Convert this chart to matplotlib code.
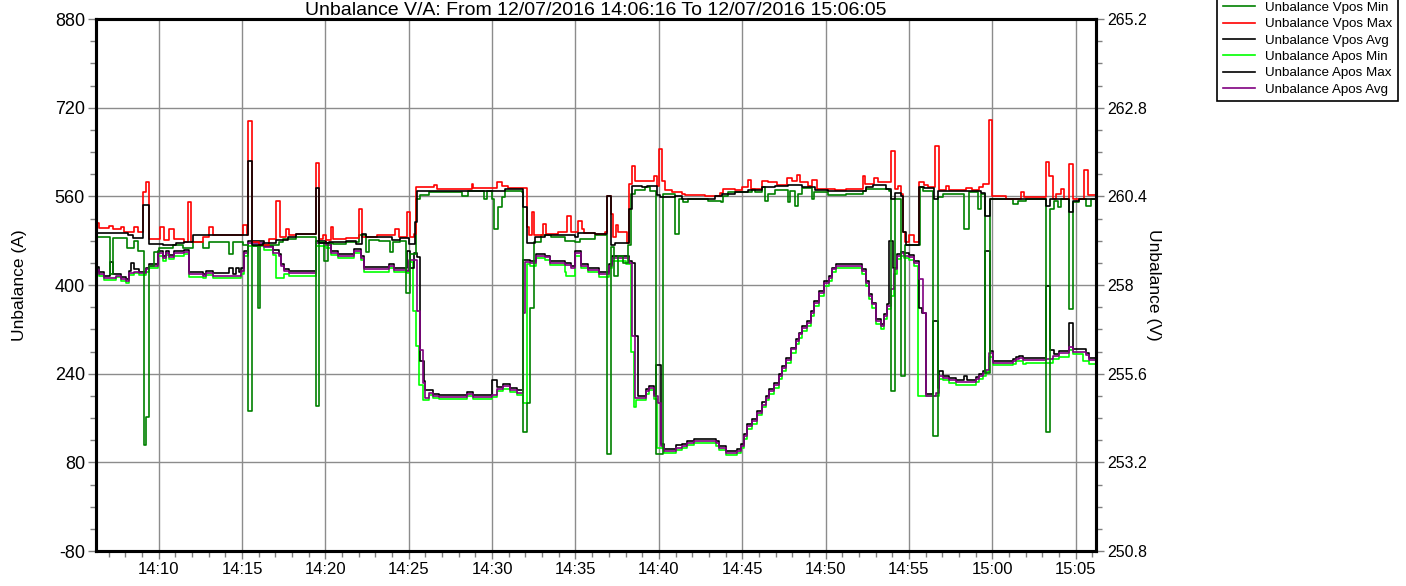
import matplotlib
matplotlib.use("Agg")
import matplotlib.pyplot as plt
import matplotlib.dates as mdates
from matplotlib.ticker import MultipleLocator, FuncFormatter
from datetime import datetime, timedelta

plt.rcParams['font.family'] = ['Liberation Sans', 'DejaVu Sans']
plt.rcParams['axes.unicode_minus'] = False

title = "Unbalance V/A: From 12/07/2016 14:06:16 To 12/07/2016 15:06:05"

# (minutes after 14:00, value) -- step data
vpos_min = [
    (6.24, 259.31), (7.08, 258.29), (7.28, 259.26), (8.08, 259.01), (8.54, 259.20), (8.74, 258.92),
    (9.10, 253.67), (9.24, 254.44), (9.40, 258.51), (9.74, 258.88), (10.04, 258.99), (10.84, 259.08),
    (11.44, 259.01), (12.04, 259.16), (12.64, 258.99), (13.04, 259.16), (14.20, 258.83), (14.44, 259.16),
    (15.04, 259.07), (15.38, 254.60), (15.58, 259.05), (15.94, 257.37), (16.10, 259.07), (17.24, 259.16),
    (17.44, 259.25), (18.24, 259.29), (19.44, 254.73), (19.60, 259.16), (19.94, 258.65), (20.14, 259.13),
    (20.44, 259.11), (21.21, 259.17), (22.01, 259.34), (22.41, 258.88), (22.60, 259.22), (23.20, 259.20),
    (23.90, 258.88), (24.04, 259.16), (24.50, 259.20), (24.86, 257.79), (25.09, 258.83), (25.43, 260.33),
    (25.69, 260.43), (26.19, 260.53), (28.18, 260.40), (28.58, 260.55), (29.54, 260.33), (29.68, 260.55),
    (29.97, 260.33), (30.13, 259.52), (30.37, 260.10), (30.57, 260.37), (30.77, 260.55), (31.77, 260.51),
    (31.85, 254.03), (32.09, 254.81), (32.27, 257.39), (32.50, 259.16), (32.96, 259.34), (33.56, 259.29),
    (34.36, 259.20), (34.96, 259.16), (35.25, 259.25), (36.16, 259.34), (36.86, 253.43), (37.10, 259.04),
    (37.32, 258.24), (37.56, 258.79), (37.86, 258.60), (38.16, 259.07), (38.32, 260.46), (38.56, 260.58),
    (39.16, 260.64), (39.46, 260.55), (39.80, 253.43), (40.22, 260.46), (40.96, 259.38), (41.20, 260.33),
    (41.46, 260.24), (41.76, 260.33), (42.96, 260.28), (43.72, 260.24), (43.86, 260.40), (44.16, 260.51),
    (45.56, 260.60), (45.76, 260.51), (46.16, 260.64), (46.36, 260.28), (46.52, 260.46), (46.96, 260.58),
    (47.72, 260.24), (47.86, 260.55), (48.16, 260.13), (48.32, 260.46), (48.56, 260.62), (49.16, 260.33),
    (49.32, 260.53), (50.16, 260.43), (51.22, 260.46), (52.22, 260.55), (52.42, 260.60), (53.82, 260.55),
    (53.92, 255.12), (54.16, 260.33), (54.52, 255.53), (54.76, 259.07), (55.42, 259.08), (55.66, 260.64),
    (55.82, 260.55), (56.46, 253.92), (56.72, 260.37), (57.02, 260.46), (58.32, 259.52), (58.62, 260.51),
    (59.12, 260.06), (59.32, 260.46), (59.58, 255.62), (59.86, 260.33), (61.22, 260.19), (61.52, 260.28),
    (62.02, 260.34), (63.22, 254.03), (63.46, 260.06), (63.72, 260.28), (63.92, 260.10), (64.12, 260.33),
    (64.58, 257.36), (64.82, 260.24), (65.22, 260.33), (65.62, 260.15), (65.92, 260.33), (66.22, 260.33),
]

vpos_max = [
    (6.24, 259.68), (6.44, 259.53), (7.04, 259.59), (7.28, 259.52), (7.74, 259.56), (7.94, 259.44),
    (8.54, 259.56), (8.74, 259.43), (9.04, 260.52), (9.24, 260.78), (9.40, 259.25), (10.08, 259.56),
    (10.34, 259.22), (10.64, 259.52), (10.94, 259.25), (11.54, 259.16), (11.74, 260.24), (11.94, 259.17),
    (12.64, 259.31), (13.04, 259.56), (13.24, 259.34), (15.04, 259.62), (15.28, 259.34), (15.38, 262.43),
    (15.58, 259.16), (16.04, 259.08), (16.64, 259.25), (17.04, 260.28), (17.28, 259.29), (17.64, 259.52),
    (17.84, 259.34), (18.24, 259.38), (19.44, 261.30), (19.60, 259.25), (19.84, 259.35), (20.04, 259.22),
    (20.34, 259.56), (20.48, 259.25), (21.21, 259.26), (22.01, 260.06), (22.21, 259.31), (23.10, 259.34),
    (24.16, 259.52), (24.40, 259.31), (24.90, 259.97), (25.09, 259.29), (25.29, 259.38), (25.43, 260.64),
    (26.49, 260.70), (26.69, 260.60), (28.78, 260.73), (28.88, 260.62), (30.27, 260.78), (30.57, 260.69),
    (30.97, 260.62), (32.07, 259.56), (32.21, 259.34), (32.41, 259.97), (32.52, 259.35), (33.06, 259.65),
    (33.22, 259.38), (33.96, 259.44), (34.52, 259.88), (34.76, 259.43), (35.15, 259.74), (35.39, 259.52),
    (35.51, 259.40), (36.16, 259.38), (36.76, 259.43), (36.86, 260.40), (37.10, 259.92), (37.26, 259.29),
    (37.40, 259.62), (37.56, 259.43), (38.06, 259.13), (38.22, 260.73), (38.36, 261.21), (38.56, 260.82),
    (39.72, 260.94), (39.86, 260.69), (40.00, 261.67), (40.20, 260.82), (40.36, 260.58), (40.80, 260.51),
    (41.36, 260.46), (41.56, 260.43), (42.76, 260.42), (43.66, 260.49), (43.86, 260.60), (44.56, 260.58),
    (44.96, 260.64), (45.36, 260.85), (45.52, 260.60), (46.16, 260.82), (46.56, 260.78), (47.06, 260.70),
    (47.66, 260.89), (47.96, 260.82), (48.26, 260.98), (48.46, 260.78), (48.96, 260.69), (49.20, 260.85),
    (49.46, 260.60), (50.56, 260.57), (51.22, 260.60), (52.22, 260.96), (52.38, 260.73), (52.92, 260.89),
    (53.12, 260.78), (53.92, 261.62), (54.16, 260.60), (54.32, 260.69), (54.52, 260.46), (54.66, 259.43),
    (54.78, 259.16), (55.02, 259.35), (55.32, 259.16), (55.62, 260.78), (55.92, 260.70), (56.12, 260.64),
    (56.58, 261.75), (56.78, 260.58), (57.22, 260.69), (57.42, 260.58), (58.42, 260.62), (58.78, 260.58),
    (59.22, 260.64), (59.42, 260.73), (59.78, 262.47), (59.96, 260.40), (60.82, 260.34), (61.72, 260.53),
    (61.92, 260.37), (63.22, 261.32), (63.42, 260.96), (63.62, 260.34), (63.82, 260.46), (64.12, 260.60),
    (64.32, 260.34), (64.58, 261.28), (64.82, 260.33), (65.52, 261.10), (65.72, 260.43), (66.22, 260.43),
]

vpos_avg = [
    (6.24, 259.40), (8.14, 259.34), (8.44, 259.28), (9.04, 260.16), (9.40, 259.11), (10.24, 259.08),
    (11.04, 259.13), (11.54, 259.17), (12.04, 259.34), (15.04, 259.36), (15.38, 261.35), (15.58, 259.07),
    (16.24, 259.13), (17.04, 259.22), (17.74, 259.31), (18.24, 259.37), (19.44, 260.62), (19.60, 259.13),
    (20.24, 259.17), (21.21, 259.20), (21.81, 259.11), (22.21, 259.38), (22.41, 259.29), (24.00, 259.22),
    (24.50, 259.26), (24.99, 259.11), (25.39, 259.71), (25.49, 260.55), (30.77, 260.60), (31.87, 260.10),
    (32.07, 259.13), (32.56, 259.29), (33.16, 259.34), (34.96, 259.29), (35.15, 259.40), (36.16, 259.38),
    (36.86, 260.40), (37.10, 259.08), (37.36, 259.13), (38.22, 260.06), (38.36, 260.69), (38.96, 260.64),
    (39.26, 260.69), (39.86, 260.43), (40.06, 260.37), (40.96, 260.40), (41.36, 260.34), (43.36, 260.40),
    (43.76, 260.46), (44.56, 260.53), (45.36, 260.58), (46.16, 260.64), (46.96, 260.69), (47.76, 260.70),
    (48.56, 260.64), (49.36, 260.58), (50.16, 260.55), (52.42, 260.64), (52.82, 260.70), (53.62, 260.60),
    (53.92, 260.33), (54.18, 260.49), (54.52, 260.42), (54.62, 259.43), (54.82, 259.08), (55.62, 260.64),
    (55.92, 260.62), (56.52, 260.34), (56.72, 260.55), (59.32, 260.49), (59.58, 259.88), (59.86, 260.33),
    (63.22, 260.15), (63.46, 260.34), (64.58, 259.97), (64.82, 260.28), (65.22, 260.33), (66.22, 260.33),
]

apos_min = [
    (6.24, 424), (6.44, 416), (6.74, 409), (7.44, 414), (7.74, 407), (8.04, 404), (8.24, 418), (8.54, 421),
    (8.84, 418), (9.24, 424), (9.44, 430), (9.94, 452), (10.24, 443), (10.44, 454), (10.64, 447), (10.94, 452),
    (11.54, 456), (11.84, 415), (12.64, 412), (12.84, 418), (13.24, 413), (14.24, 412), (14.94, 420),
    (15.14, 452), (15.34, 470), (16.34, 463), (16.84, 454), (17.04, 413), (17.54, 420), (17.84, 417),
    (19.44, 470), (20.04, 467), (20.34, 454), (20.74, 448), (21.21, 448), (21.71, 457), (22.11, 445),
    (22.31, 424), (23.80, 430), (24.10, 423), (24.90, 421), (25.03, 442), (25.23, 353), (25.43, 290),
    (25.63, 220), (25.83, 192), (26.19, 202), (26.43, 196), (26.79, 194), (28.48, 199), (28.88, 194),
    (29.97, 198), (30.27, 208), (30.67, 213), (31.07, 207), (31.47, 202), (31.87, 187), (32.07, 437),
    (32.27, 435), (32.66, 448), (33.16, 445), (33.46, 436), (34.36, 424), (34.46, 416), (34.96, 453),
    (35.35, 430), (35.75, 423), (36.40, 415), (37.00, 430), (37.20, 444), (38.00, 437), (38.30, 280),
    (38.50, 180), (38.64, 192), (39.20, 204), (39.40, 210), (39.70, 195), (39.90, 105), (40.30, 96),
    (41.00, 102), (41.40, 105), (41.70, 111), (42.10, 114), (43.40, 110), (43.60, 102), (44.00, 93),
    (44.70, 96), (44.90, 105), (45.10, 122), (45.30, 140), (45.60, 150), (45.90, 165), (46.20, 180),
    (46.40, 192), (46.60, 203), (46.90, 215), (47.20, 230), (47.40, 245), (47.60, 260), (47.90, 278),
    (48.20, 293), (48.40, 305), (48.60, 317), (48.90, 326), (49.10, 344), (49.30, 362), (49.60, 380),
    (49.90, 398), (50.20, 408), (50.40, 423), (50.60, 430), (52.20, 420), (52.40, 399), (52.60, 375),
    (52.80, 358), (53.00, 330), (53.30, 321), (53.50, 338), (53.70, 356), (53.90, 380), (54.10, 420),
    (54.30, 447), (54.50, 452), (54.70, 449), (55.00, 446), (55.30, 435), (55.55, 200), (56.62, 200),
    (56.82, 230), (57.02, 228), (57.42, 224), (57.82, 220), (59.02, 225), (59.22, 230), (59.42, 236),
    (59.62, 243), (59.82, 270), (60.02, 255), (61.22, 258), (61.42, 262), (61.62, 263), (61.82, 258),
    (62.02, 260), (63.62, 266), (64.02, 270), (64.62, 283), (64.82, 276), (65.42, 262), (65.82, 258),
    (66.22, 258),
]

apos_max = [
    (6.24, 432), (6.44, 423), (6.74, 417), (7.08, 442), (7.28, 420), (7.74, 415), (8.04, 411), (8.24, 425),
    (8.34, 439), (8.54, 428), (8.84, 424), (9.24, 431), (9.44, 437), (9.94, 461), (10.24, 452), (10.44, 462),
    (10.64, 455), (10.94, 461), (11.54, 464), (11.84, 423), (12.64, 420), (12.84, 426), (13.24, 421),
    (14.20, 430), (14.44, 420), (14.64, 430), (14.84, 423), (14.94, 430), (15.10, 461), (15.34, 479),
    (16.34, 471), (16.84, 463), (17.24, 456), (17.34, 438), (17.54, 429), (17.84, 425), (19.44, 479),
    (20.04, 476), (20.34, 462), (20.74, 456), (21.21, 456), (21.71, 465), (22.11, 453), (22.31, 432),
    (23.80, 438), (24.10, 431), (24.90, 462), (25.10, 430), (25.30, 458), (25.51, 450), (25.69, 262),
    (25.90, 226), (25.99, 210), (26.43, 204), (26.79, 201), (28.48, 207), (28.88, 201), (29.97, 229),
    (30.27, 216), (30.67, 221), (31.07, 215), (31.47, 210), (31.87, 445), (32.27, 443), (32.66, 456),
    (33.16, 453), (33.46, 444), (34.36, 440), (34.76, 434), (34.96, 461), (35.35, 438), (35.75, 431),
    (36.40, 423), (37.00, 438), (37.20, 453), (38.20, 444), (38.40, 440), (38.56, 308), (38.76, 200),
    (39.20, 212), (39.40, 218), (39.70, 203), (39.80, 256), (40.10, 113), (40.30, 104), (41.00, 112),
    (41.40, 113), (41.70, 119), (42.10, 122), (43.40, 118), (43.60, 110), (44.00, 101), (44.70, 104),
    (44.90, 113), (45.10, 131), (45.30, 149), (45.60, 158), (45.90, 173), (46.20, 188), (46.40, 200),
    (46.60, 212), (46.90, 224), (47.20, 239), (47.40, 254), (47.60, 269), (47.90, 287), (48.20, 302),
    (48.40, 314), (48.60, 326), (48.90, 335), (49.10, 353), (49.30, 371), (49.60, 389), (49.90, 407),
    (50.20, 416), (50.40, 431), (50.60, 437), (52.20, 428), (52.40, 407), (52.60, 383), (52.80, 368),
    (53.00, 338), (53.30, 329), (53.50, 347), (53.70, 365), (53.82, 479), (54.02, 431), (54.30, 456),
    (54.50, 460), (54.70, 457), (55.00, 454), (55.30, 443), (55.60, 359), (55.80, 350), (56.02, 203),
    (56.46, 335), (56.72, 214), (56.82, 244), (57.02, 236), (57.42, 233), (57.82, 229), (58.30, 236),
    (58.50, 229), (59.02, 234), (59.22, 239), (59.42, 245), (59.58, 461), (59.86, 281), (60.02, 263),
    (61.22, 266), (61.42, 270), (61.62, 272), (61.82, 268), (62.02, 269), (63.22, 398), (63.46, 283),
    (63.72, 276), (64.02, 281), (64.58, 332), (64.82, 284), (65.62, 278), (65.82, 268), (66.22, 268),
]

apos_avg = [
    (6.24, 427), (6.44, 419), (6.74, 413), (7.44, 417), (7.74, 411), (8.04, 407), (8.24, 421), (8.54, 424),
    (8.84, 421), (9.24, 428), (9.44, 434), (9.94, 457), (10.24, 448), (10.44, 458), (10.64, 451), (10.94, 457),
    (11.54, 460), (11.84, 419), (12.64, 416), (12.84, 422), (13.24, 417), (14.24, 416), (14.94, 425),
    (15.14, 458), (15.34, 475), (16.34, 468), (16.84, 458), (17.24, 452), (17.34, 434), (17.54, 425),
    (17.84, 421), (19.44, 475), (20.04, 472), (20.34, 458), (20.74, 452), (21.21, 452), (21.71, 461),
    (22.11, 449), (22.31, 428), (23.80, 434), (24.10, 427), (24.90, 425), (25.03, 446), (25.51, 353),
    (25.69, 283), (25.83, 223), (25.99, 196), (26.19, 206), (26.43, 200), (26.79, 198), (28.48, 204),
    (28.88, 198), (29.97, 202), (30.27, 212), (30.67, 217), (31.07, 211), (31.47, 206), (31.87, 350),
    (31.97, 442), (32.27, 439), (32.66, 452), (33.16, 450), (33.46, 440), (34.36, 436), (34.76, 430),
    (34.96, 457), (35.35, 434), (35.75, 427), (36.40, 419), (37.00, 434), (37.20, 449), (38.20, 440),
    (38.40, 308), (38.56, 196), (39.20, 208), (39.40, 214), (39.70, 199), (39.96, 187), (40.10, 109),
    (40.30, 100), (41.00, 106), (41.40, 109), (41.70, 115), (42.10, 118), (43.40, 114), (43.60, 106),
    (44.00, 97), (44.70, 100), (44.90, 109), (45.10, 127), (45.30, 145), (45.60, 154), (45.90, 169),
    (46.20, 184), (46.40, 196), (46.60, 208), (46.90, 220), (47.20, 235), (47.40, 250), (47.60, 265),
    (47.90, 284), (48.20, 299), (48.40, 311), (48.60, 323), (48.90, 332), (49.10, 350), (49.30, 368),
    (49.60, 386), (49.90, 404), (50.20, 413), (50.40, 428), (50.60, 434), (52.20, 425), (52.40, 404),
    (52.60, 380), (52.80, 365), (53.00, 335), (53.30, 326), (53.50, 344), (53.70, 362), (53.90, 392),
    (54.10, 428), (54.30, 452), (54.50, 457), (54.70, 453), (55.00, 451), (55.30, 440), (55.60, 410),
    (55.82, 350), (56.02, 199), (56.62, 205), (56.82, 235), (57.02, 232), (57.42, 229), (57.82, 225),
    (59.02, 230), (59.22, 235), (59.42, 241), (59.62, 247), (59.82, 277), (60.02, 259), (61.22, 262),
    (61.42, 266), (61.62, 268), (61.82, 264), (62.02, 265), (63.22, 266), (63.62, 271), (64.02, 277),
    (64.62, 289), (64.82, 280), (65.62, 274), (65.82, 264), (66.22, 264),
]

amp_ticks = [-80, 80, 240, 400, 560, 720, 880]
volt_ticks = [250.8, 253.2, 255.6, 258.0, 260.4, 262.8, 265.2]

start = datetime(2016, 7, 12, 14, 0, 0)


def split(pairs):
    t = [start + timedelta(minutes=m) for m, v in pairs]
    v = [v for m, v in pairs]
    return t, v


fig = plt.figure(figsize=(14.06, 5.86), dpi=100)
ax = fig.add_axes([96 / 1406, 1 - 551 / 586, 1000 / 1406, 532 / 586])
ax2 = ax.twinx()

lw = 1.2
handles = []
t, v = split(vpos_min)
handles += ax2.step(t, v, where='post', color='#008000', lw=lw, label='Unbalance Vpos Min')
t, v = split(vpos_max)
handles += ax2.step(t, v, where='post', color='#ff0000', lw=lw, label='Unbalance Vpos Max')
t, v = split(vpos_avg)
handles += ax2.step(t, v, where='post', color='black', lw=lw, label='Unbalance Vpos Avg')
t, v = split(apos_min)
handles += ax.step(t, v, where='post', color='#00ff00', lw=lw, label='Unbalance Apos Min')
t, v = split(apos_max)
handles += ax.step(t, v, where='post', color='black', lw=lw, label='Unbalance Apos Max')
t, v = split(apos_avg)
handles += ax.step(t, v, where='post', color='#800080', lw=lw, label='Unbalance Apos Avg')

ax.set_xlim(start + timedelta(minutes=6.24), start + timedelta(minutes=66.22))
ax.set_ylim(-80, 880)
ax2.set_ylim(250.8, 265.2)

ax.set_yticks(amp_ticks)
ax.yaxis.set_minor_locator(MultipleLocator(40))
ax2.set_yticks(volt_ticks)
ax2.yaxis.set_minor_locator(MultipleLocator(0.6))
ax2.yaxis.set_major_formatter(FuncFormatter(lambda x, p: '%g' % round(x, 1)))

ax.xaxis.set_major_locator(mdates.MinuteLocator(byminute=range(0, 60, 5)))
ax.xaxis.set_major_formatter(mdates.DateFormatter('%H:%M'))
ax.xaxis.set_minor_locator(mdates.MinuteLocator())

ax.grid(True, which='major', color='#8c8c8c', lw=1.0)
ax.set_axisbelow(True)

for a in (ax, ax2):
    for s in a.spines.values():
        s.set_linewidth(2.2)
        s.set_color('black')
    a.tick_params(which='major', length=6, width=1.0, color='#808080', direction='out', pad=2)
    a.tick_params(which='minor', length=4, width=1.0, color='#808080', direction='out')
ax.tick_params(axis='y', labelsize=13)
ax.tick_params(axis='x', labelsize=12)
ax2.tick_params(axis='y', labelsize=11.5)
ax.tick_params(axis='x', which='both', top=False)

ax.set_ylabel('Unbalance (A)', fontsize=12.5, labelpad=20)
ax2.set_ylabel('Unbalance (V)', fontsize=12.5, rotation=270, labelpad=10)

fig.text(596 / 1406, 1 - 15 / 586, title, ha='center', va='baseline', fontsize=14)

leg = fig.legend(handles=handles, loc='lower right', bbox_to_anchor=(1398 / 1406, 1 - 101 / 586),
                 fontsize=9.6, frameon=True, fancybox=False, edgecolor='black', framealpha=1,
                 handlelength=2.4, handletextpad=0.8, labelspacing=0.3, borderpad=0.4, borderaxespad=0)
leg.get_frame().set_linewidth(1.2)

fig.savefig('out.png', dpi=100)
